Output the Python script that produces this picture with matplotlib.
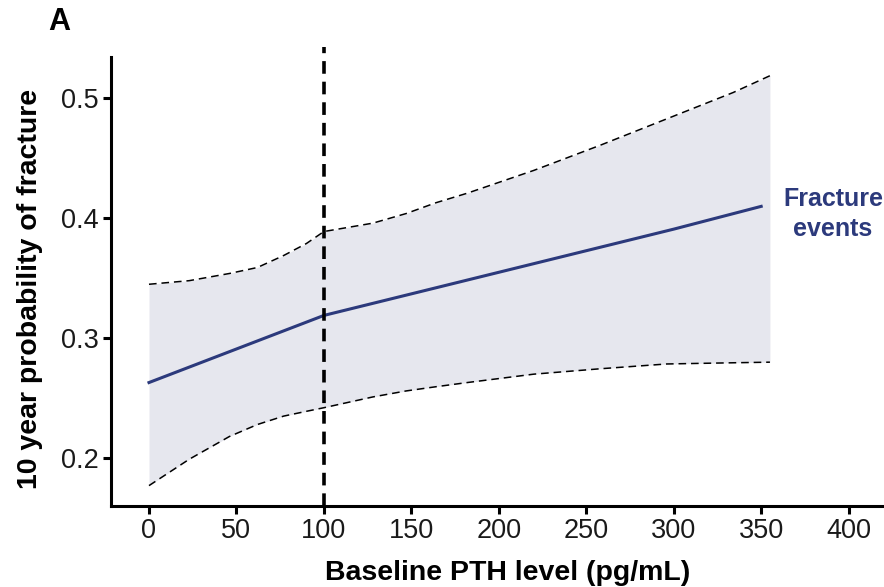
import matplotlib
matplotlib.use("Agg")
import matplotlib.pyplot as plt

plt.rcParams['font.family'] = ['Liberation Sans', 'DejaVu Sans']

# Fitted curve: PTH level (pg/mL) vs 10-year fracture probability
pth = [0, 100, 200, 300, 350]
prob = [0.263, 0.319, 0.355, 0.391, 0.410]

# 95% confidence band
ci_pth = [0, 23, 46, 62, 77, 90, 100, 128, 147, 164, 182, 220, 258, 296, 334, 355]
upper = [0.345, 0.348, 0.354, 0.359, 0.369, 0.379, 0.389, 0.396, 0.404, 0.413,
         0.421, 0.440, 0.461, 0.483, 0.505, 0.519]
lower = [0.177, 0.199, 0.218, 0.228, 0.235, 0.239, 0.242, 0.251, 0.256, 0.2595,
         0.263, 0.270, 0.2745, 0.2785, 0.2795, 0.280]

cutoff = 100
xticks = [0, 50, 100, 150, 200, 250, 300, 350, 400]
yticks = [0.2, 0.3, 0.4, 0.5]

navy = '#2c3a7c'

fig = plt.figure(figsize=(8.84, 5.87), dpi=100)
ax = fig.add_axes([0.1256, 0.138, 0.872, 0.782])

ax.fill_between(ci_pth, lower, upper, color='#e6e7ee', lw=0)
ax.plot(ci_pth, upper, color='black', ls=(0, (5, 3.2)), lw=1.1)
ax.plot(ci_pth, lower, color='black', ls=(0, (5, 3.2)), lw=1.1)
ax.plot(pth, prob, color=navy, lw=2.2)
ax.axvline(cutoff, color='black', ls=(0, (3.5, 2.2)), lw=2.6)

ax.text(391, 0.404, 'Fracture\nevents', color=navy,
        fontsize=18, fontweight='bold', ha='center', va='center', linespacing=1.32)

ax.set_xlim(-21.7, 419)
ax.set_ylim(0.16, 0.543)
ax.spines['left'].set_bounds(0.16, 0.535)
for s in ['top', 'right']:
    ax.spines[s].set_visible(False)
for s in ['left', 'bottom']:
    ax.spines[s].set_linewidth(2.2)

ax.set_xticks(xticks)
ax.set_yticks(yticks)
ax.set_yticklabels([str(v) for v in yticks])
ax.tick_params(direction='out', length=6, width=2.2, labelsize=19.5, pad=3,
               labelcolor='#1a1a1a')

ax.set_xlabel('Baseline PTH level (pg/mL)', fontsize=20.5, fontweight='bold', labelpad=11)
ax.set_ylabel('10 year probability of fracture', fontsize=20.5, fontweight='bold', labelpad=13)
# labels sit a little off-centre in the original
ax.xaxis.label.set_x(0.514)
ax.yaxis.label.set_y(0.473)

fig.text(0.054, 0.962, 'A', fontsize=22, fontweight='bold', ha='left', va='center')

fig.savefig('out.png', dpi=100)
